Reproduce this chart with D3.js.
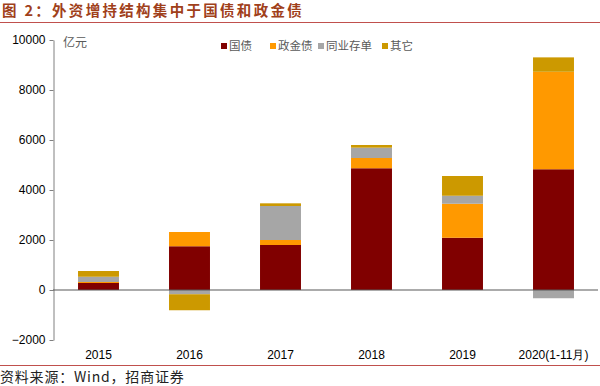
<!DOCTYPE html>
<html><head><meta charset="utf-8">
<script src="https://cdn.jsdelivr.net/npm/d3@7/dist/d3.min.js"></script>
<style>body{margin:0;background:#fff}svg{display:block}</style>
</head><body>
<script>
const categories = ["2015","2016","2017","2018","2019","2020(1-11月)"];
const seriesNames = ["国债","政金债","同业存单","其它"];
const guozhai   = [280, 1750, 1800, 4870, 2090, 4830];
const zhengjin  = [40, 570, 200, 410, 1360, 3900];
const tongye    = [210, -170, 1360, 413, 320, -330];
const qita      = [230, -640, 107, 107, 790, 575];
const yTicks = [-2000, 0, 2000, 4000, 6000, 8000, 10000];
const colors = ["#800000","#FF9900","#A6A6A6","#CC9900"];

const W = 600, H = 386;
const svg = d3.select("body").append("svg").attr("width", W).attr("height", H);
const font = "Arial, 'Liberation Sans', sans-serif";
const cjk = "'Noto Sans CJK SC', sans-serif";

// title
svg.append("text").attr("x", 2).attr("y", 16).attr("font-family", cjk).attr("font-weight", "bold")
  .attr("font-size", 14.5).attr("letter-spacing", 2.3).attr("fill", "#A0401A").text("图 2：外资增持结构集中于国债和政金债");
svg.append("line").attr("x1", 0).attr("x2", W).attr("y1", 22.5).attr("y2", 22.5).attr("stroke", "#C0504D").attr("stroke-width", 1.2);
svg.append("line").attr("x1", 0).attr("x2", W).attr("y1", 365.5).attr("y2", 365.5).attr("stroke", "#C0504D").attr("stroke-width", 1);
svg.append("text").attr("x", 0).attr("y", 382).attr("font-family", cjk).attr("font-size", 14).attr("letter-spacing", 0.8).attr("fill", "#222")
  .text("资料来源：Wind，招商证券");

const x = d3.scaleBand().domain(categories).range([53, 599]).paddingInner(0.55).paddingOuter(0.275);
const y = d3.scaleLinear().domain([-2000, 10000]).range([340, 40]);

const series = [guozhai, zhengjin, tongye, qita];
const data = categories.map((c, i) => {
  const o = {cat: c};
  seriesNames.forEach((s, j) => o[s] = series[j][i]);
  return o;
});
const stack = d3.stack().keys(seriesNames).offset(d3.stackOffsetDiverging);
const layers = stack(data);

svg.append("g").selectAll("g").data(layers).join("g").attr("fill", (d, i) => colors[i])
  .selectAll("rect").data(d => d).join("rect")
  .attr("x", d => x(d.data.cat))
  .attr("width", x.bandwidth())
  .attr("y", d => y(Math.max(d[0], d[1])))
  .attr("height", d => Math.abs(y(d[0]) - y(d[1])));

// y axis
const yAxis = d3.axisLeft(y).tickValues(yTicks).tickSize(4).tickSizeOuter(0).tickFormat(d3.format("d"));
const ga = svg.append("g").attr("transform", "translate(53.5,0)").call(yAxis);
ga.select(".domain").attr("stroke", "#808080");
ga.selectAll(".tick line").attr("stroke", "#808080");
ga.selectAll(".tick text").attr("font-family", font).attr("font-size", 12).attr("fill", "#000").attr("x", -8);

// zero line
svg.append("line").attr("x1", 53).attr("x2", 598).attr("y1", y(0)).attr("y2", y(0)).attr("stroke", "#595959").attr("stroke-width", 1.2);

// x labels
svg.append("g").selectAll("text").data(categories).join("text")
  .attr("x", d => x(d) + x.bandwidth() / 2).attr("y", 359).attr("text-anchor", "middle")
  .attr("font-family", font).attr("font-size", 12).attr("fill", "#000").text(d => d);

// unit
svg.append("text").attr("x", 63).attr("y", 47).attr("font-family", cjk).attr("font-size", 12).attr("fill", "#595959").text("亿元");

// legend
const legX = [221, 270, 318, 382];
const lg = svg.append("g").selectAll("g").data(seriesNames).join("g")
  .attr("transform", (d, i) => `translate(${legX[i]},46)`);
lg.append("rect").attr("x", 0).attr("y", -3).attr("width", 6).attr("height", 6).attr("fill", (d, i) => colors[i]);
lg.append("text").attr("x", 8).attr("y", 4).attr("font-family", cjk).attr("font-size", 11.5).attr("fill", "#595959").text(d => d);
</script>
</body></html>
